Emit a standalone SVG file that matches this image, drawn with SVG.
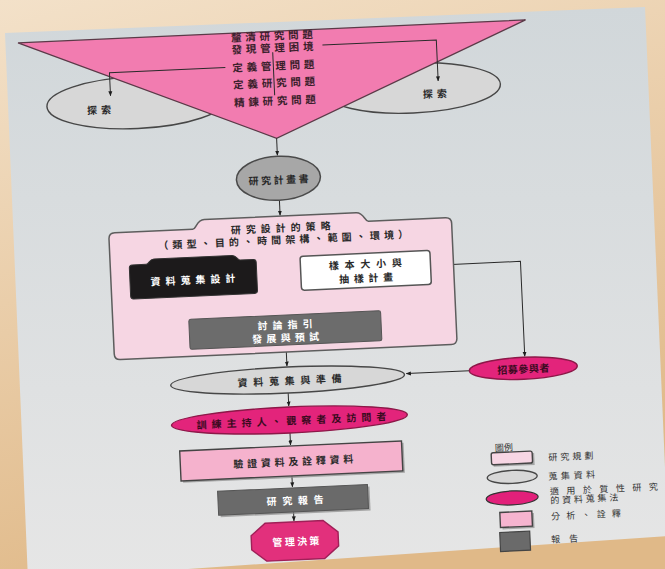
<svg xmlns="http://www.w3.org/2000/svg" width="665" height="569" viewBox="0 0 665 569">
<defs>
  <linearGradient id="bg" x1="0" y1="0" x2="0.35" y2="1">
    <stop offset="0" stop-color="#f3e1c9"/>
    <stop offset="1" stop-color="#e0b988"/>
  </linearGradient>
  <linearGradient id="paper" x1="0" y1="0" x2="0" y2="1">
    <stop offset="0" stop-color="#d1d7da"/>
    <stop offset="1" stop-color="#e6e6e6"/>
  </linearGradient>
  <marker id="ah" viewBox="0 0 10 10" refX="9" refY="5" markerWidth="5" markerHeight="5" orient="auto">
    <path d="M0,1 L10,5 L0,9 z" fill="#1e1e1e"/>
  </marker>
  <style>
    text { font-family: "Noto Sans CJK TC", "Noto Sans CJK SC", sans-serif; fill: #2a2a2a; font-weight: 700; text-anchor: middle; dominant-baseline: central; }
    .tri { font-size: 10.5px; fill: #3b1f2c; }
    .n { font-size: 10px; }
    .w { fill: #ffffff; }
    .lg { font-size: 9px; text-anchor: start; font-weight: 400; fill: #333; }
    .con { fill: none; stroke: #2a2a2a; stroke-width: 1; }
    .arr { marker-end: url(#ah); }
    .edge { stroke: #474747; stroke-width: 1.4; }
    .gray { fill: #d7d7d7; }
    .mag { fill: #e3247b; stroke: #8c1848; stroke-width: 1.4; }
    .shadow { fill: #8a8a8a; opacity: 0.7; }
  </style>
</defs>

<rect x="0" y="0" width="665" height="569" fill="url(#bg)"/>
<polygon points="5,33 645,7 668,536 28,580" fill="url(#paper)"/>

<g transform="rotate(-2.6 330 300)">
  <!-- exploration ellipses behind triangle -->
  <g id="explore-left">
    <ellipse cx="146" cy="94" rx="90" ry="26" class="gray edge"/>
    <text x="108" y="99" class="n" textLength="24">探索</text>
  </g>
  <g id="explore-right">
    <ellipse cx="422" cy="92" rx="88" ry="25" class="gray edge"/>
    <text x="444" y="98" class="n" textLength="24">探索</text>
  </g>

  <g id="question-hierarchy">
    <polygon points="30,29 538,29 284,136" fill="#f27cb0" stroke="#5b3a48" stroke-width="1.3"/>
    <line x1="284" y1="50" x2="284" y2="93" class="con"/>
    <text x="284" y="33" class="tri" textLength="82">釐清研究問題</text>
    <text x="284" y="45" class="tri" textLength="82">發現管理困境</text>
    <text x="284" y="63" class="tri" textLength="82">定義管理問題</text>
    <text x="284" y="80" class="tri" textLength="82">定義研究問題</text>
    <text x="284" y="98" class="tri" textLength="82">精鍊研究問題</text>
  </g>

  <g id="connectors">
    <path d="M334,45 H448 V86" class="con arr"/>
    <path d="M236,63 H120 V86" class="con arr"/>
    <path d="M284,136 V153" class="con arr"/>
    <path d="M284,198 V213" class="con arr"/>
    <path d="M194,290 V300 H367 V289" class="con"/>
    <path d="M284,300 V312" class="con arr"/>
    <path d="M432,270 H522 V365" class="con arr"/>
    <path d="M466,377 H403" class="con arr"/>
    <path d="M284,350 V364" class="con arr"/>
    <path d="M284,391 V404" class="con arr"/>
    <path d="M284,431 V443" class="con arr"/>
    <path d="M284,474 V485" class="con arr"/>
    <path d="M284,510 V519" class="con arr"/>
  </g>

  <g id="proposal">
    <ellipse cx="284" cy="176" rx="42" ry="22" fill="#a7a7a7" stroke="#4a4a4a" stroke-width="1.5"/>
    <text x="284" y="177" class="n" textLength="60">研究計畫書</text>
  </g>

  <g id="research-design">
    <path d="M118,223 H196 C200,223 200,214 208,214 H360 C368,214 368,223 372,223 H449 Q455,223 455,229 V344 Q455,350 449,350 H118 Q112,350 112,344 V229 Q112,223 118,223 Z" fill="#f6d6e3" stroke="#5d5d5d" stroke-width="1.5"/>
    <text x="284" y="225" class="n" textLength="100">研究設計的策略</text>
    <text x="286" y="237" class="n" font-size="9.5" textLength="250">（類型、目的、時間架構、範圍、環境）</text>
  </g>

  <g id="data-collection-design">
    <path d="M134,256 H148 C151,256 151,251 156,251 H234 C239,251 239,256 242,256 H255 Q258,256 258,259 V287 Q258,290 255,290 H134 Q131,290 131,287 V259 Q131,256 134,256 Z" fill="#1c1a1b" stroke="#333" stroke-width="1"/>
    <text x="194" y="273" class="n w" textLength="85">資料蒐集設計</text>
  </g>

  <g id="sampling-design">
    <rect x="302" y="255" width="130" height="34" rx="3" fill="#ffffff" stroke="#555" stroke-width="1.5"/>
    <text x="367" y="265" class="n" textLength="73">樣本大小與</text>
    <text x="367" y="279" class="n" textLength="54">抽樣計畫</text>
  </g>

  <g id="pilot-testing">
    <rect x="188" y="313" width="192" height="30" rx="2" fill="#6c6c6c" stroke="#555" stroke-width="1"/>
    <text x="284" y="322" class="n w" textLength="55">討論指引</text>
    <text x="284" y="335" class="n w" textLength="67">發展與預試</text>
  </g>

  <g id="recruit">
    <ellipse cx="520" cy="377" rx="54" ry="11" class="mag"/>
    <text x="520" y="377" class="n" style="fill:#3a0a20" textLength="52">招募參與者</text>
  </g>

  <g id="data-collection">
    <ellipse cx="284" cy="378" rx="117" ry="13" class="gray edge"/>
    <text x="286" y="378" class="n" textLength="104">資料蒐集與準備</text>
  </g>

  <g id="training">
    <ellipse cx="284" cy="418" rx="118" ry="13" class="mag"/>
    <text x="286" y="418" class="n" style="fill:#3a0a20" textLength="190">訓練主持人、觀察者及訪問者</text>
  </g>

  <g id="analysis">
    <rect x="175" y="446" width="222" height="30" class="shadow"/>
    <rect x="173" y="444" width="222" height="30" fill="#f5b2cd" stroke="#444" stroke-width="1.4"/>
    <text x="286" y="459" class="n" textLength="120">驗證資料及詮釋資料</text>
  </g>

  <g id="report">
    <rect x="211" y="488" width="150" height="24" class="shadow"/>
    <rect x="209" y="486" width="150" height="24" fill="#6a6a6a" stroke="#555" stroke-width="1"/>
    <text x="286" y="498" class="n w" textLength="57">研究報告</text>
  </g>

  <g id="decision">
    <polygon points="255,520 313,520 327.5,532 327.5,546 313,558 255,558 240.5,546 240.5,532" fill="#e2307c" stroke="#a02058" stroke-width="1.4"/>
    <text x="285" y="539" class="n w" textLength="47">管理決策</text>
  </g>

  <g id="legend">
    <text x="488" y="455" class="lg" textLength="18">圖例</text>
    <rect x="486" y="462" width="41" height="12" class="shadow"/>
    <rect x="484" y="460" width="41" height="12" rx="2" fill="#f7d6e4" stroke="#444" stroke-width="1.4"/>
    <text x="541" y="467" class="lg" textLength="45">研究規劃</text>
    <ellipse cx="504" cy="485" rx="25" ry="6.5" class="gray edge"/>
    <text x="540" y="486" class="lg" textLength="47">蒐集資料</text>
    <ellipse cx="503" cy="506" rx="26" ry="7" fill="#e2207a" stroke="#333" stroke-width="1.2"/>
    <text x="541" y="501" class="lg" textLength="108">適用於質性研究</text>
    <text x="541" y="510" class="lg" textLength="68">的資料蒐集法</text>
    <rect x="492" y="522" width="32" height="15" class="shadow"/>
    <rect x="490" y="520" width="32" height="15" fill="#f6b4cf" stroke="#444" stroke-width="1.4"/>
    <text x="541" y="526" class="lg" textLength="70">分析、詮釋</text>
    <rect x="489" y="540" width="30" height="19" fill="#6a6a6a" stroke="#444" stroke-width="1.2"/>
    <text x="540" y="549" class="lg" textLength="27">報告</text>
  </g>
</g>
</svg>
